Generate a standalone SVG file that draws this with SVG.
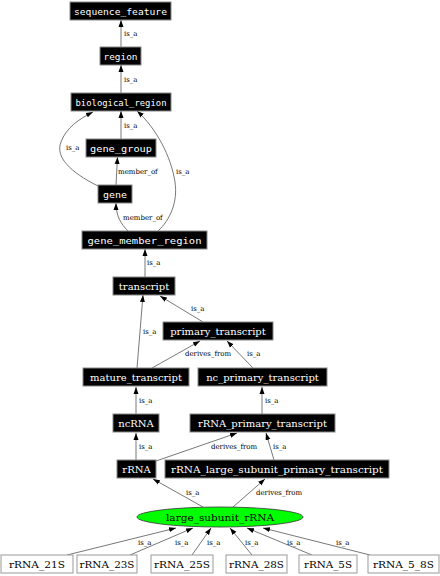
<svg xmlns="http://www.w3.org/2000/svg" width="440" height="576" viewBox="0 0 440 576">
<style>
.bg{fill:#ffffff}
.nb rect{fill:#000000;stroke:#888888;stroke-width:1}
.nb text{fill:#ffffff;font-size:10px;text-anchor:middle}
.mono text{font-family:"DejaVu Sans Mono","Liberation Mono",monospace;font-size:9.5px}
.ser text{font-family:"DejaVu Serif","Liberation Serif",serif}
.nw rect{fill:#ffffff;stroke:#999999;stroke-width:1}
.nw text{fill:#000000;font-size:10px;text-anchor:middle;font-family:"DejaVu Serif","Liberation Serif",serif}
.ne ellipse{fill:#00ff00;stroke:#333333;stroke-width:0.8}
.ne text{fill:#000000;font-size:10px;text-anchor:middle;font-family:"DejaVu Serif","Liberation Serif",serif}
.edges path{fill:none;stroke:#555555;stroke-width:0.8;marker-end:url(#arr)}
.edges text{font-family:"DejaVu Serif","Liberation Serif",serif;font-size:7px;fill:#000000}
</style>
<defs>
<marker id="arr" markerUnits="userSpaceOnUse" markerWidth="7" markerHeight="6" refX="7" refY="3" orient="auto">
<path d="M0,0.5 L7,3 L0,5.5 z" fill="#000000"/>
</marker>
</defs>
<rect class="bg" x="0" y="0" width="440" height="576"/>
<g class="edges" id="edges">
<path d="M121,47 L121,20"/><text x="124" y="36">is_a</text>
<path d="M121,93 L121,65"/><text x="124" y="82">is_a</text>
<path d="M121,139 L121,111"/><text x="124" y="128">is_a</text>
<path d="M98,186 C70,172 55,157 61,142 C66,128 79,119 93,112"/><text x="66" y="150">is_a</text>
<path d="M116,185 L117.5,157"/><text x="118" y="174">member_of</text>
<path d="M128,231 C121,224 116,216 116,203"/><text x="123" y="220">member_of</text>
<path d="M158,231 C170,220 178,202 175,182 C171,156 156,128 137,111"/><text x="176" y="174">is_a</text>
<path d="M145,277 L145,249"/><text x="147" y="265">is_a</text>
<path d="M203,322 L160,296"/><text x="191" y="311">is_a</text>
<path d="M137,368 L143,295"/><text x="143" y="334">is_a</text>
<path d="M152,368 L200,341"/><text x="185" y="356">derives_from</text>
<path d="M253,368 L227,341"/><text x="247" y="356">is_a</text>
<path d="M136,414 L136,387"/><text x="139" y="403">is_a</text>
<path d="M262,414 L262,387"/><text x="265" y="403">is_a</text>
<path d="M136,460 L136,433"/><text x="139" y="449">is_a</text>
<path d="M156,461 L237,433"/><text x="211" y="449">derives_from</text>
<path d="M274,460 L266,433"/><text x="273" y="449">is_a</text>
<path d="M203,507 L153,479"/><text x="186" y="495">is_a</text>
<path d="M233,507 L265,479"/><text x="256" y="495">derives_from</text>
<path d="M67,555 L176,528"/><text x="138" y="545">is_a</text>
<path d="M130,555 L193,528"/><text x="175" y="545">is_a</text>
<path d="M192,555 L211,528"/><text x="207" y="545">is_a</text>
<path d="M252,555 L230,528"/><text x="245" y="545">is_a</text>
<path d="M312,555 L247,528"/><text x="287" y="545">is_a</text>
<path d="M370,555 L263,528"/><text x="336" y="545">is_a</text>
</g>
<g id="sequence_feature" class="nb mono"><rect x="70" y="2" width="101" height="18"/><text x="120.5" y="14.5" textLength="93" lengthAdjust="spacingAndGlyphs">sequence_feature</text></g>
<g id="region" class="nb mono"><rect x="100" y="47" width="41" height="18"/><text x="120.5" y="59.5" textLength="34" lengthAdjust="spacingAndGlyphs">region</text></g>
<g id="biological_region" class="nb mono"><rect x="71" y="93" width="100" height="18"/><text x="121" y="105.5" textLength="91" lengthAdjust="spacingAndGlyphs">biological_region</text></g>
<g id="gene_group" class="nb mono"><rect x="86" y="139" width="70" height="18"/><text x="121" y="151.5" textLength="62" lengthAdjust="spacingAndGlyphs">gene_group</text></g>
<g id="gene" class="nb mono"><rect x="98" y="185" width="34" height="18"/><text x="115" y="197.5" textLength="24" lengthAdjust="spacingAndGlyphs">gene</text></g>
<g id="gene_member_region" class="nb mono"><rect x="82" y="231" width="125" height="18"/><text x="144.5" y="243.5" textLength="114" lengthAdjust="spacingAndGlyphs">gene_member_region</text></g>
<g id="transcript" class="nb ser"><rect x="113" y="277" width="62" height="18"/><text x="144" y="289.5">transcript</text></g>
<g id="primary_transcript" class="nb ser"><rect x="163" y="322" width="110" height="18"/><text x="218" y="334.5">primary_transcript</text></g>
<g id="mature_transcript" class="nb ser"><rect x="83" y="368" width="106" height="18"/><text x="136" y="380.5">mature_transcript</text></g>
<g id="nc_primary_transcript" class="nb ser"><rect x="198" y="368" width="129" height="18"/><text x="262.5" y="380.5">nc_primary_transcript</text></g>
<g id="ncRNA" class="nb ser"><rect x="113" y="414" width="46" height="18"/><text x="136" y="426.5">ncRNA</text></g>
<g id="rRNA_primary_transcript" class="nb ser"><rect x="190" y="414" width="145" height="18"/><text x="262.5" y="426.5">rRNA_primary_transcript</text></g>
<g id="rRNA" class="nb ser"><rect x="117" y="460" width="39" height="18"/><text x="136.5" y="472.5">rRNA</text></g>
<g id="rRNA_large_subunit_primary_transcript" class="nb ser"><rect x="165" y="460" width="224" height="18"/><text x="277" y="472.5" textLength="212" lengthAdjust="spacingAndGlyphs">rRNA_large_subunit_primary_transcript</text></g>
<g id="large_subunit_rRNA" class="ne"><ellipse cx="220" cy="517" rx="83" ry="10"/><text x="220" y="520.5" textLength="108" lengthAdjust="spacingAndGlyphs">large_subunit_rRNA</text></g>
<g id="rRNA_21S" class="nw"><rect x="1" y="555" width="72" height="18"/><text x="37" y="567.5" textLength="56" lengthAdjust="spacingAndGlyphs">rRNA_21S</text></g>
<g id="rRNA_23S" class="nw"><rect x="77" y="555" width="60" height="18"/><text x="107" y="567.5" textLength="55" lengthAdjust="spacingAndGlyphs">rRNA_23S</text></g>
<g id="rRNA_25S" class="nw"><rect x="151" y="555" width="62" height="18"/><text x="182" y="567.5" textLength="56" lengthAdjust="spacingAndGlyphs">rRNA_25S</text></g>
<g id="rRNA_28S" class="nw"><rect x="226" y="555" width="61" height="18"/><text x="256.5" y="567.5" textLength="55" lengthAdjust="spacingAndGlyphs">rRNA_28S</text></g>
<g id="rRNA_5S" class="nw"><rect x="299" y="555" width="58" height="18"/><text x="328" y="567.5" textLength="48" lengthAdjust="spacingAndGlyphs">rRNA_5S</text></g>
<g id="rRNA_5_8S" class="nw"><rect x="368" y="555" width="71" height="18"/><text x="403.5" y="567.5" textLength="61" lengthAdjust="spacingAndGlyphs">rRNA_5_8S</text></g>
</svg>
